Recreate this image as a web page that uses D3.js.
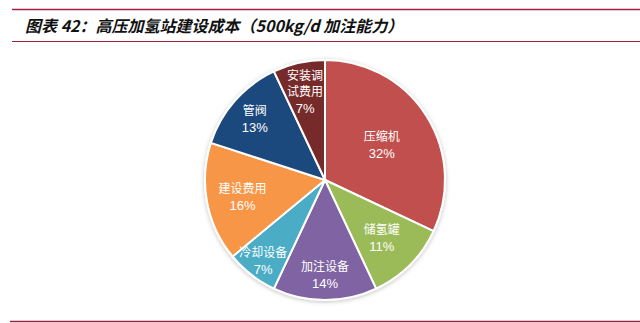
<!DOCTYPE html>
<html>
<head>
<meta charset="utf-8">
<script src="https://cdn.jsdelivr.net/npm/d3@7/dist/d3.min.js"></script>
<style>
  body { margin: 0; background: #fff; }
  svg { display: block; }
</style>
</head>
<body>
<svg id="chart" width="640" height="323"></svg>
<script>
// chart data
const title = "图表 42：高压加氢站建设成本（500kg/d 加注能力）";
const categories = ["压缩机", "储氢罐", "加注设备", "冷却设备", "建设费用", "管阀", "安装调试费用"];
const values = [32, 11, 14, 7, 16, 13, 7];
// label lines as shown in the picture (long name wraps)
const labelLines = [["压缩机"], ["储氢罐"], ["加注设备"], ["冷却设备"], ["建设费用"], ["管阀"], ["安装调", "试费用"]];
const colors = ["#C0504D", "#9BBB59", "#8064A2", "#4BACC6", "#F79646", "#1F497D", "#772C2A"];
// how far out each label sits, as a share of the radius (layout only)
const labelRadiusShare = [0.56, 0.67, 0.78, 0.84, 0.70, 0.78, 0.76];

const svg = d3.select("#chart");
const W = 640, H = 323;
const lineColor = "#9E1F3F";
const cjk = "'Noto Sans CJK SC', 'Noto Sans', sans-serif";

// header rules and title
svg.append("line").attr("x1", 12).attr("x2", W).attr("y1", 9.5).attr("y2", 9.5)
  .attr("stroke", lineColor).attr("stroke-width", 1.5);
svg.append("line").attr("x1", 12).attr("x2", W).attr("y1", 41.5).attr("y2", 41.5)
  .attr("stroke", lineColor).attr("stroke-width", 1.2);
svg.append("line").attr("x1", 10).attr("x2", W).attr("y1", 321.5).attr("y2", 321.5)
  .attr("stroke", lineColor).attr("stroke-width", 1.5);

svg.append("text")
  .attr("x", 25).attr("y", 32)
  .attr("font-family", cjk)
  .attr("font-size", 16).attr("font-weight", "bold").attr("font-style", "italic")
  .attr("fill", "#111")
  .text(title);

// pie
const cx = 325, cy = 180, r = 120;
const g = svg.append("g").attr("transform", `translate(${cx},${cy})`);

const defs = svg.append("defs");
const f = defs.append("filter").attr("id", "shadow").attr("x", "-20%").attr("y", "-20%").attr("width", "140%").attr("height", "140%");
f.append("feDropShadow").attr("dx", 0).attr("dy", 1).attr("stdDeviation", 2).attr("flood-color", "#000").attr("flood-opacity", 0.25);

const data = categories.map((c, i) => ({ name: c, value: values[i], lines: labelLines[i], color: colors[i], lr: labelRadiusShare[i] }));

const pie = d3.pie().value(d => d.value).sort(null);
const arcs = pie(data);
const arc = d3.arc().innerRadius(0).outerRadius(r);

g.append("g").attr("filter", "url(#shadow)")
  .selectAll("path")
  .data(arcs)
  .enter().append("path")
    .attr("d", arc)
    .attr("fill", d => d.data.color)
    .attr("stroke", "#fff")
    .attr("stroke-width", 2)
    .attr("stroke-linejoin", "round");

const lineH = 16;
const labels = g.selectAll(".lbl")
  .data(arcs)
  .enter().append("text")
    .attr("class", "lbl")
    .attr("text-anchor", "middle")
    .attr("fill", "#fff")
    .attr("transform", d => {
      const lr = r * d.data.lr;
      const c = d3.arc().innerRadius(lr).outerRadius(lr).centroid(d);
      const n = d.data.lines.length + 1;
      return `translate(${c[0]},${c[1] - (n - 1) * lineH / 2 + 5})`;
    });

labels.each(function(d) {
  const t = d3.select(this);
  d.data.lines.forEach((ln, i) => {
    t.append("tspan").attr("x", 0).attr("dy", i === 0 ? 0 : lineH)
      .attr("font-family", cjk).attr("font-size", 12)
      .text(ln);
  });
  t.append("tspan").attr("x", 0).attr("dy", lineH + 1)
    .attr("font-family", "'Liberation Sans', Arial, sans-serif").attr("font-size", 13)
    .text(d.data.value + "%");
});
</script>
</body>
</html>
